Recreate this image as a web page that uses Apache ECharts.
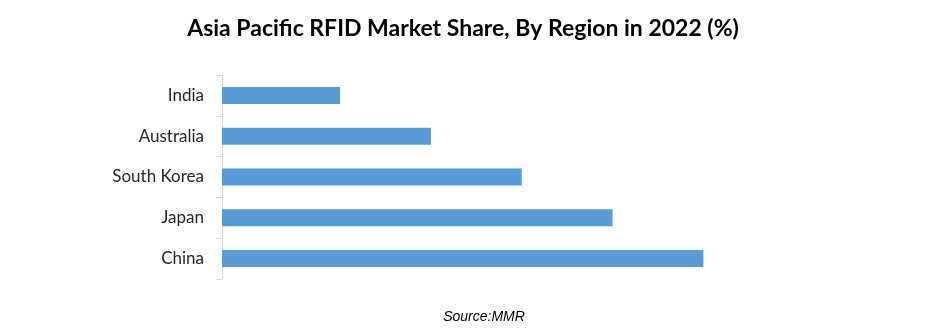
<!DOCTYPE html>
<html><head><meta charset="utf-8">
<script src="https://cdn.jsdelivr.net/npm/echarts@6/dist/echarts.min.js"></script>
<style>html,body{margin:0;padding:0;background:#fff}#c{width:940px;height:331px}</style>
</head><body><div id="c"></div>
<script>
const categories = ["China", "Japan", "South Korea", "Australia", "India"];
const shareValues = [53, 43, 33, 23, 13];
const chart = echarts.init(document.getElementById('c'));
chart.setOption({
  animation: false,
  backgroundColor: '#ffffff',
  title: [{
    text: 'Asia Pacific RFID Market Share, By Region in 2022 (%)',
    left: 458, top: 12, textAlign: 'center',
    textStyle: {fontFamily: 'Lato', fontWeight: 'bold', fontSize: 23, color: '#000'}
  }, {
    text: 'Source:MMR',
    left: 479, top: 305, textAlign: 'center',
    textStyle: {fontFamily: 'Liberation Sans', fontStyle: 'italic', fontWeight: 'normal', fontSize: 14, color: '#000'}
  }],
  grid: {left: 222, top: 75, bottom: 52, right: 173, containLabel: false},
  xAxis: {
    type: 'value', min: 0, max: 60,
    axisLabel: {show: false}, axisLine: {show: false}, axisTick: {show: false}, splitLine: {show: false}
  },
  yAxis: {
    type: 'category', data: categories,
    axisLine: {show: true, lineStyle: {color: '#d9d9d9', width: 1}},
    axisTick: {show: true, length: 6, lineStyle: {color: '#d9d9d9'}},
    axisLabel: {margin: 18, fontFamily: 'Lato', fontSize: 17, color: '#262626'}
  },
  series: [{
    type: 'bar', data: shareValues, barWidth: 17,
    itemStyle: {color: '#5B9BD5'}
  }]
});
</script></body></html>
